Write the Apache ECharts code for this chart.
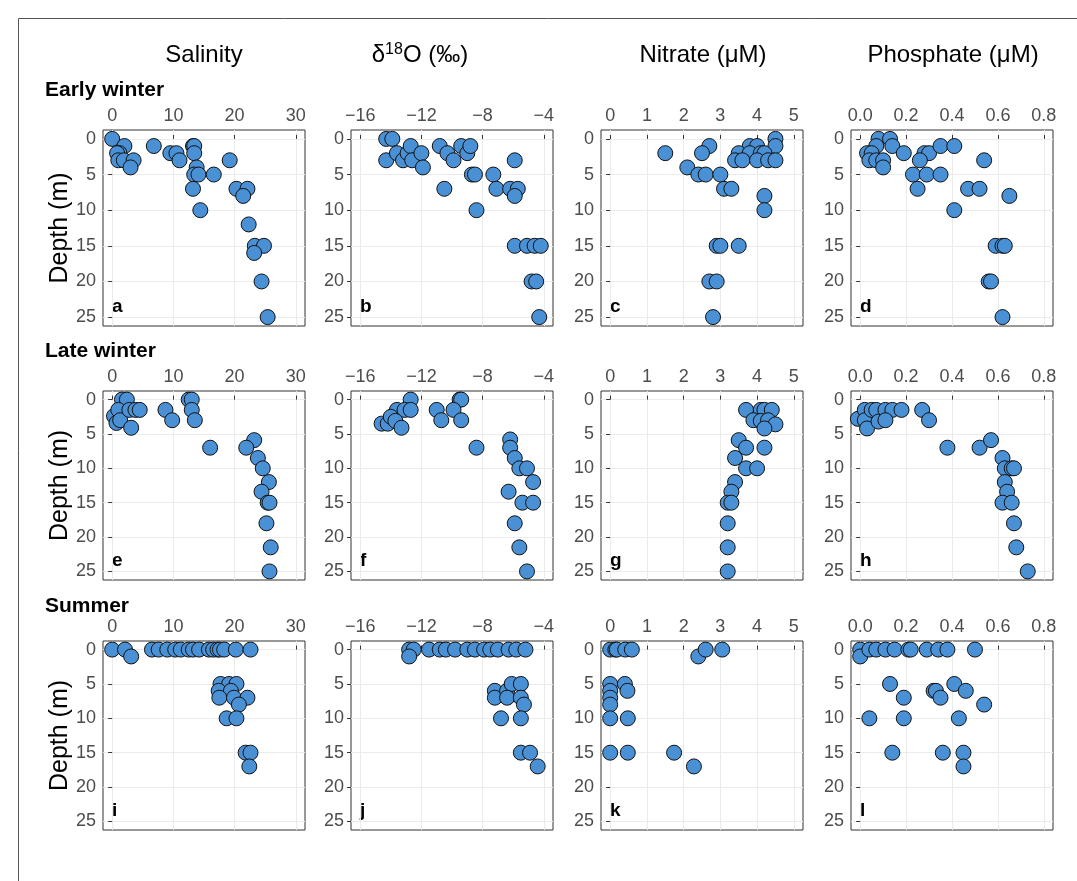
<!DOCTYPE html>
<html>
<head>
<meta charset="utf-8">
<title>Depth profiles</title>
<script src="https://cdn.jsdelivr.net/npm/echarts@6/dist/echarts.min.js"></script>
<style>
  html, body { margin: 0; padding: 0; background: #fff; }
  #chart { width: 1077px; height: 881px; }
</style>
</head>
<body>
<div id="chart"></div>
<script>
// tick labels
var salinityTicks = [0, 10, 20, 30];
var d18OTicks = [-16, -12, -8, -4];
var nitrateTicks = [0, 1, 2, 3, 4, 5];
var phosphateTicks = [0, 0.2, 0.4, 0.6, 0.8];
var depthTicks = [0, 5, 10, 15, 20, 25];

var columnTitles = ['Salinity', 'δ18O (‰)', 'Nitrate (μM)', 'Phosphate (μM)'];
var seasons = ['Early winter', 'Late winter', 'Summer'];
var panelLetters = ['a', 'b', 'c', 'd', 'e', 'f', 'g', 'h', 'i', 'j', 'k', 'l'];

// [value, depth (m)]
var earlyWinterSalinity = [[0,0],[2,1],[1.2,2],[0.8,2],[1,3],[1.9,3],[3.5,3],[3,4],[6.8,1],[9.5,2],[10.5,2],[11,3],
  [13.2,1],[13.4,1],[13.4,2],[13.8,4],[13.4,5],[14.1,5],[16.6,5],[19.2,3],[13.2,7],[14.4,10],[20.3,7],[22.1,7],
  [21.4,8],[22.3,12],[23.3,15],[24.8,15],[23.2,16],[24.4,20],[25.4,25]];
var earlyWinterD18O = [[-14.3,0],[-13.9,0],[-14.3,3],[-13.6,2],[-13.2,3],[-12.9,2],[-12.7,1],[-12.6,3],[-12.0,2],
  [-11.9,4],[-10.8,1],[-10.3,2],[-9.9,3],[-9.4,1],[-9.0,2],[-8.8,1],[-8.7,5],[-8.5,5],[-10.5,7],[-8.4,10],[-7.3,5],
  [-7.1,7],[-6.2,7],[-5.7,7],[-5.9,8],[-5.9,3],[-5.9,15],[-5.1,15],[-4.6,15],[-4.2,15],[-4.8,20],[-4.5,20],[-4.3,25]];
var earlyWinterNitrate = [[1.5,2],[2.7,1],[2.5,2],[2.1,4],[2.4,5],[2.6,5],[3.0,5],[3.1,7],[3.3,7],[3.8,1],[4.0,1],
  [4.5,0],[4.5,1],[3.5,2],[3.8,2],[4.1,2],[4.2,2],[3.4,3],[3.6,3],[4.0,3],[4.3,3],[4.5,3],[4.2,8],[4.2,10],[2.9,15],
  [3.0,15],[3.5,15],[2.7,20],[2.9,20],[2.8,25]];
var earlyWinterPhosphate = [[0.08,0],[0.13,0],[0.07,1],[0.14,1],[0.03,2],[0.05,2],[0.04,3],[0.07,3],[0.1,3],[0.1,4],
  [0.19,2],[0.28,2],[0.3,2],[0.26,3],[0.35,1],[0.41,1],[0.23,5],[0.29,5],[0.35,5],[0.25,7],[0.54,3],[0.47,7],
  [0.52,7],[0.65,8],[0.41,10],[0.59,15],[0.62,15],[0.63,15],[0.56,20],[0.57,20],[0.62,25]];

var lateWinterSalinity = [[1.6,0],[2.4,0],[0.3,2.4],[1,1.5],[0.7,3.4],[1.3,3],[2.8,1.5],[3.8,1.5],[4.5,1.5],[3.1,4.1],
  [8.7,1.5],[9.8,3],[12.5,0],[13,0],[13,1.5],[13.5,3],[16,7],[23.2,5.9],[21.9,7],[23.8,8.5],[24.6,10],[25.6,12],
  [24.4,13.4],[25.4,15],[25.7,15],[25.2,18],[25.9,21.5],[25.7,25]];
var lateWinterD18O = [[-12.7,0],[-9.5,0],[-9.4,0],[-13.6,1.5],[-13.1,1.5],[-12.7,1.5],[-11,1.5],[-9.9,1.5],[-14.6,3.5],
  [-14.2,3.5],[-14,2.5],[-13.7,3.1],[-13.3,4.1],[-10.7,3],[-9.4,3],[-8.4,7],[-6.2,5.8],[-6.2,7],[-5.9,8.5],[-5.6,10],
  [-5.1,10],[-4.7,12],[-6.3,13.4],[-5.4,15],[-4.7,15],[-5.9,18],[-5.6,21.5],[-5.1,25]];
var lateWinterNitrate = [[3.7,1.5],[4.1,1.5],[4.2,1.5],[4.4,1.5],[3.9,3],[4.1,3.1],[4.3,3],[4.5,3.6],[4.2,4.2],
  [3.5,5.9],[3.7,7],[4.2,7],[3.4,8.5],[3.7,10],[4.0,10],[3.4,12],[3.3,13.4],[3.2,15],[3.3,15],[3.2,18],[3.2,21.5],[3.2,25]];
var lateWinterPhosphate = [[-0.01,2.8],[0.02,1.5],[0.02,3],[0.03,4.2],[0.05,1.5],[0.07,1.5],[0.08,3.2],[0.11,1.5],
  [0.14,1.5],[0.11,3],[0.18,1.5],[0.27,1.5],[0.3,3],[0.38,7],[0.52,7],[0.57,5.9],[0.62,8.5],[0.63,10],[0.66,10],
  [0.67,10],[0.63,12],[0.64,13.4],[0.62,15],[0.66,15],[0.67,18],[0.68,21.5],[0.73,25]];

var summerSalinity = [[0,0],[2.1,0],[3.1,1],[6.5,0],[7.6,0],[9,0],[10.3,0],[11.2,0],[12.5,0],[13.2,0],[14.2,0],[15.8,0],
  [16.5,0],[17.2,0],[17.6,0],[18.3,0],[20.2,0],[22.6,0],[17.7,5],[19.1,5],[20.3,5],[17.4,6],[19.4,6],[17.5,7],[19.9,7],
  [22.1,7],[20.7,8],[18.7,10],[20.3,10],[21.8,15],[22.6,15],[22.4,17]];
var summerD18O = [[-12.8,0],[-12.5,0],[-12.8,1],[-11.5,0],[-10.8,0],[-10.4,0],[-9.8,0],[-9,0],[-8.5,0],[-7.9,0],
  [-7.5,0],[-7,0],[-6.3,0],[-5.8,0],[-5.2,0],[-7.2,6],[-7.2,7],[-6.4,6],[-6.1,5],[-6.4,7],[-5.5,5],[-5.5,7],[-5.3,8],
  [-6.8,10],[-5.5,10],[-5.5,15],[-4.9,15],[-4.4,17]];
var summerNitrate = [[0,0],[0.14,0],[0.18,0],[0.41,0],[0.59,0],[2.4,1],[2.6,0],[3.05,0],[0,5],[0.4,5],[0,6],[0.47,6],
  [0,7],[0,8],[0,10],[0.48,10],[0,15],[0.48,15],[1.74,15],[2.28,17]];
var summerPhosphate = [[0,0],[0,1],[0.04,0],[0.07,0],[0.11,0],[0.15,0],[0.21,0],[0.22,0],[0.29,0],[0.34,0],[0.38,0],
  [0.5,0],[0.13,5],[0.32,6],[0.33,6],[0.35,7],[0.41,5],[0.46,6],[0.54,8],[0.19,7],[0.04,10],[0.19,10],[0.43,10],
  [0.14,15],[0.36,15],[0.45,15],[0.45,17]];

var panels = [
  [earlyWinterSalinity, earlyWinterD18O, earlyWinterNitrate, earlyWinterPhosphate],
  [lateWinterSalinity, lateWinterD18O, lateWinterNitrate, lateWinterPhosphate],
  [summerSalinity, summerD18O, summerNitrate, summerPhosphate]
];

var FONT = "'Liberation Sans', Arial, Helvetica, sans-serif";

// x ranges padded like ggplot (5%)
var columns = [
  { min: -1.5, max: 31.5, ticks: salinityTicks, digits: 0 },
  { min: -16.6, max: -3.4, ticks: d18OTicks, digits: 0 },
  { min: -0.25, max: 5.25, ticks: nitrateTicks, digits: 0 },
  { min: -0.04, max: 0.84, ticks: phosphateTicks, digits: 1 }
];
var colLeft = [103, 351, 601, 851];
var colWidth = 202;
var rowTop = [130, 391, 641];
var rowHeight = [196, 189, 189];

function fmt(v, digits) {
  var s = Math.abs(v).toFixed(digits);
  return v < 0 ? '\u2212' + s : s;
}

var grids = [], xAxes = [], yAxes = [], series = [], graphics = [];

for (var r = 0; r < 3; r++) {
  for (var c = 0; c < 4; c++) {
    var i = r * 4 + c;
    var col = columns[c];
    grids.push({
      left: colLeft[c], top: rowTop[r], width: colWidth, height: rowHeight[r],
      outerBoundsMode: 'none', containLabel: false,
      show: true, borderColor: '#333333', borderWidth: 1, backgroundColor: '#fff'
    });
    (function (digits) {
      xAxes.push({
        type: 'value', gridIndex: i, position: 'top',
        min: col.min, max: col.max,
        axisLine: { show: false },
        axisTick: { show: true, length: 4, customValues: col.ticks, lineStyle: { color: '#333333' } },
        axisLabel: {
          show: true, customValues: col.ticks, margin: 5,
          color: '#4d4d4d', fontSize: 18, fontFamily: FONT,
          formatter: function (v) { return fmt(v, digits); }
        },
        splitLine: { show: true, lineStyle: { color: '#ebebeb', width: 1 } }
      });
    })(col.digits);
    yAxes.push({
      type: 'value', gridIndex: i, inverse: true,
      min: -1.25, max: 26.25,
      axisLine: { show: false },
      axisTick: { show: true, length: 4, customValues: depthTicks, lineStyle: { color: '#333333' } },
      axisLabel: {
        show: true, customValues: depthTicks, margin: 7,
        color: '#4d4d4d', fontSize: 18, fontFamily: FONT
      },
      splitLine: { show: true, lineStyle: { color: '#ebebeb', width: 1 } }
    });
    series.push({
      type: 'scatter', xAxisIndex: i, yAxisIndex: i,
      data: panels[r][c],
      symbol: 'circle', symbolSize: 15,
      itemStyle: { color: '#4a90d4', borderColor: '#111111', borderWidth: 1, opacity: 1 },
      emphasis: { disabled: true },
      z: 3
    });
    graphics.push({
      type: 'text', left: colLeft[c] + 9, top: rowTop[r] + rowHeight[r] - 29,
      style: { text: panelLetters[i], font: 'bold 19px ' + FONT, fill: '#000' }
    });
  }
}

// column headers
var titleCenters = [204, 420, 703, 953];
for (var c = 0; c < 4; c++) {
  if (c === 1) {
    graphics.push({
      type: 'text', x: titleCenters[c], y: 55,
      style: {
        text: '{t|δ}{s|18}{t|O (‰)}',
        align: 'center', verticalAlign: 'middle', textAlign: 'center', textVerticalAlign: 'middle',
        rich: {
          t: { font: '24px ' + FONT, fill: '#000' },
          s: { font: '16px ' + FONT, fill: '#000', padding: [0, 0, 11, 0] }
        }
      }
    });
  } else {
    graphics.push({
      type: 'text', x: titleCenters[c], y: 55,
      style: {
        text: columnTitles[c], font: '24px ' + FONT, fill: '#000',
        align: 'center', verticalAlign: 'middle', textAlign: 'center', textVerticalAlign: 'middle'
      }
    });
  }
}

// season labels and y titles
var seasonY = [90, 351, 606];
for (var r = 0; r < 3; r++) {
  graphics.push({
    type: 'text', x: 45, y: seasonY[r],
    style: {
      text: seasons[r], font: 'bold 21px ' + FONT, fill: '#000',
      align: 'left', verticalAlign: 'middle', textAlign: 'left', textVerticalAlign: 'middle'
    }
  });
  graphics.push({
    type: 'text', x: 60, y: rowTop[r] + rowHeight[r] / 2, rotation: Math.PI / 2,
    style: {
      text: 'Depth (m)', font: '25px ' + FONT, fill: '#000',
      align: 'center', verticalAlign: 'middle', textAlign: 'center', textVerticalAlign: 'middle'
    }
  });
}

// outer frame
graphics.push({
  type: 'rect', shape: { x: 18.5, y: 18.5, width: 1100, height: 900 },
  style: { fill: 'none', stroke: '#555', lineWidth: 1 }, z: -1
});

var chart = echarts.init(document.getElementById('chart'), null, { renderer: 'canvas' });
chart.setOption({
  animation: false,
  backgroundColor: '#ffffff',
  grid: grids,
  xAxis: xAxes,
  yAxis: yAxes,
  series: series,
  graphic: { elements: graphics }
});
window.onresize = chart.resize;
</script>
</body>
</html>
